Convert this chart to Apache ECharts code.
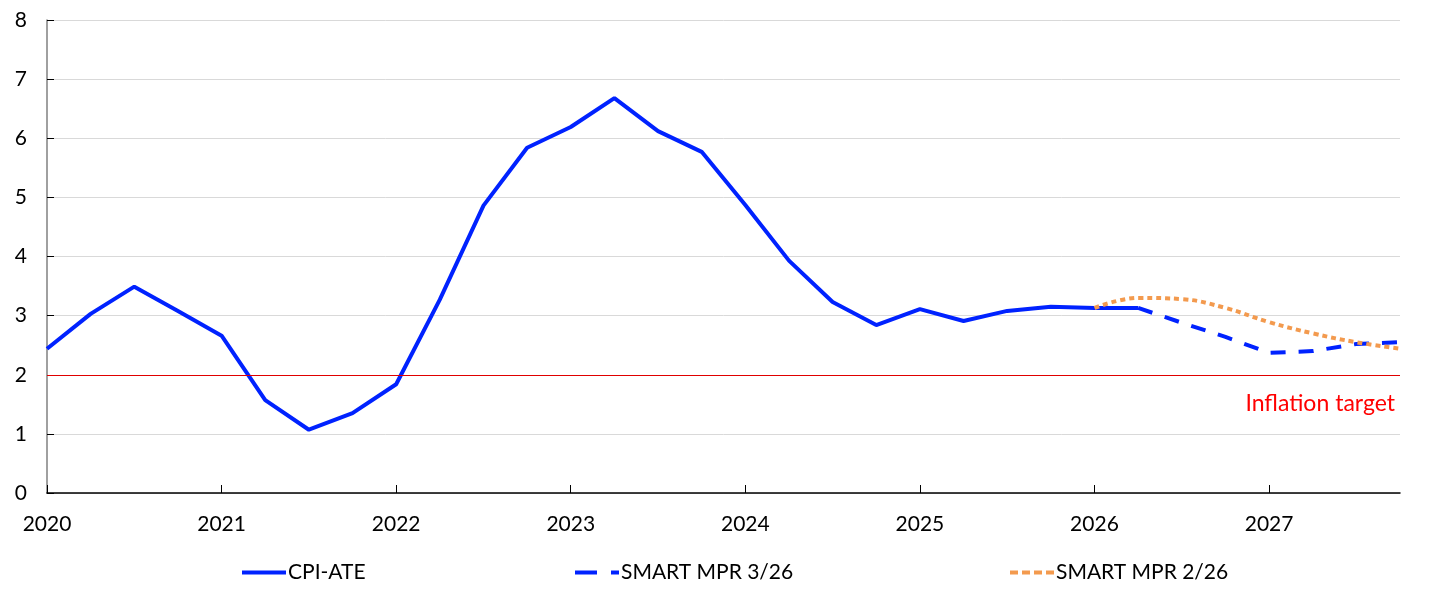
<!DOCTYPE html>
<html>
<head>
<meta charset="utf-8">
<script src="https://cdn.jsdelivr.net/npm/echarts@6/dist/echarts.min.js"></script>
<style>
  html, body { margin: 0; padding: 0; background: #fff; }
  #chart { width: 1445px; height: 592px; }
</style>
</head>
<body>
<div id="chart"></div>
<script>
// quarterly categories, 2020Q1 .. 2027Q4
var quarters = [];
for (var y = 2020; y <= 2027; y++) {
    for (var q = 1; q <= 4; q++) quarters.push(y + 'Q' + q);
}

var cpiAte = [2.44, 3.03, 3.49, 3.08, 2.66, 1.57, 1.07, 1.35,
              1.84, 3.27, 4.86, 5.84, 6.19, 6.68, 6.12, 5.77,
              4.87, 3.93, 3.23, 2.84, 3.11, 2.91, 3.08, 3.15,
              3.13, 3.13];
var mpr326 = [null, null, null, null, null, null, null, null,
              null, null, null, null, null, null, null, null,
              null, null, null, null, null, null, null, null,
              null, 3.13, 2.88, 2.64, 2.37, 2.40, 2.52, 2.55];
var mpr226 = [null, null, null, null, null, null, null, null,
              null, null, null, null, null, null, null, null,
              null, null, null, null, null, null, null, null,
              3.13, 3.30, 3.28, 3.13, 2.89, 2.70, 2.55, 2.44];
var targetValue = 2;
var targetLabel = 'Inflation target';
var seriesNames = ['CPI-ATE', 'SMART MPR 3/26', 'SMART MPR 2/26'];

var font = 'Lato, "Open Sans", sans-serif';
var blue = '#0022ff';
var orange = '#f39a4e';

// legend icons drawn like the original's line samples
var legendIcons = [
    'rect',
    'path://M0,0H22V4H0Z M36,0H44V4H36Z',
    'path://M0,0H8V4H0Z M12,0H20V4H12Z M24,0H32V4H24Z M36,0H44V4H36Z'
];
var legendLeft = [237, 570, 1005];

var myChart = echarts.init(document.getElementById('chart'), null, { renderer: 'canvas' });

var legends = [];
for (var i = 0; i < seriesNames.length; i++) {
    legends.push({
        left: legendLeft[i],
        top: 557,
        itemWidth: 44,
        itemHeight: 4,
        symbolKeepAspect: false,
        selectedMode: false,
        textStyle: { fontSize: 21, color: '#000', fontFamily: font, padding: [0, 0, 0, -3] },
        data: [{ name: seriesNames[i], icon: legendIcons[i] }]
    });
}

var option = {
    animation: false,
    backgroundColor: '#fff',
    textStyle: { fontFamily: font },
    grid: { left: 47, right: 45, top: 20, bottom: 99 },
    legend: legends,
    xAxis: {
        type: 'category',
        boundaryGap: false,
        data: quarters,
        axisLine: { lineStyle: { color: '#000', width: 1.5 } },
        axisTick: { inside: true, length: 8, interval: 3, lineStyle: { color: '#000' } },
        axisLabel: {
            interval: 3,
            margin: 21,
            fontSize: 21,
            color: '#000',
            formatter: function (v) { return v.slice(0, 4); }
        },
        splitLine: { show: false }
    },
    yAxis: {
        type: 'value',
        min: 0,
        max: 8,
        interval: 1,
        axisLine: { show: true, lineStyle: { color: '#808080', width: 1.5 } },
        axisTick: { show: true, inside: true, length: 7, lineStyle: { color: '#000' } },
        axisLabel: { fontSize: 21, color: '#000', margin: 20 },
        splitLine: { lineStyle: { color: '#d9d9d9', width: 1 } }
    },
    series: [
        {
            name: seriesNames[0],
            type: 'line',
            data: cpiAte,
            symbol: 'none',
            z: 3,
            lineStyle: { color: blue, width: 4 },
            itemStyle: { color: blue, borderWidth: 0 },
            markLine: {
                silent: true,
                symbol: 'none',
                data: [{ yAxis: targetValue }],
                lineStyle: { color: '#e00000', width: 1.2, type: 'solid' },
                label: {
                    position: 'insideEndBottom',
                    formatter: targetLabel,
                    color: '#ff0000',
                    fontSize: 23,
                    fontFamily: font,
                    distance: [5, 17]
                }
            }
        },
        {
            name: seriesNames[1],
            type: 'line',
            data: mpr326,
            symbol: 'none',
            z: 2,
            lineStyle: { color: blue, width: 4, type: [15, 13] },
            itemStyle: { color: blue, borderWidth: 0 }
        },
        {
            name: seriesNames[2],
            type: 'line',
            data: mpr226,
            symbol: 'none',
            smooth: 0.4,
            z: 4,
            lineStyle: { color: orange, width: 4, type: [5, 4] },
            itemStyle: { color: orange, borderWidth: 0 }
        }
    ]
};

myChart.setOption(option);
window.addEventListener('resize', myChart.resize);
</script>
</body>
</html>
